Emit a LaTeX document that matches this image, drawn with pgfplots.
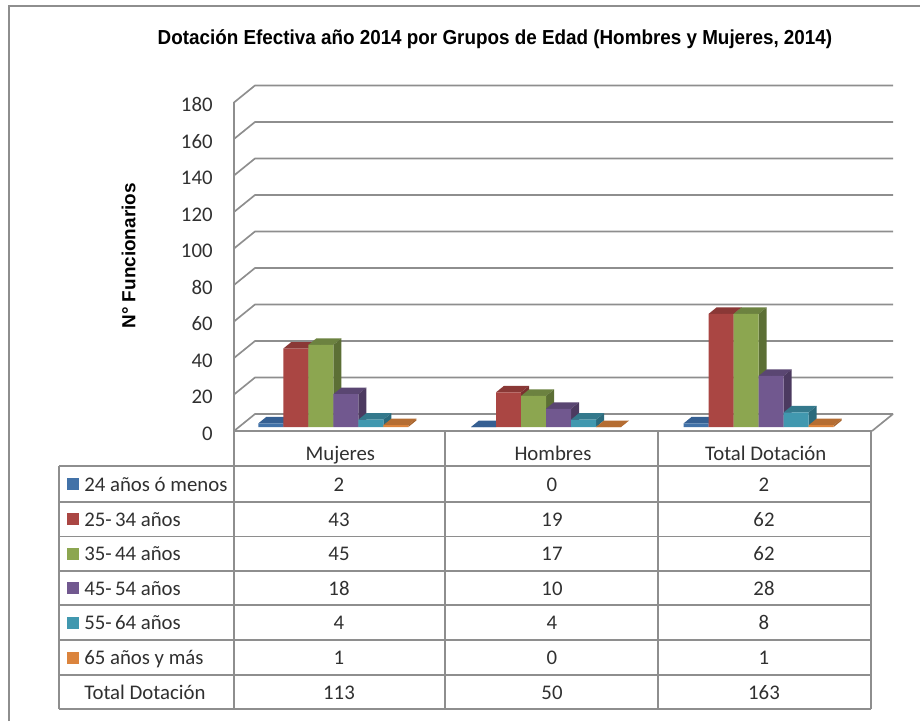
\documentclass[border=0pt]{standalone}
\usepackage{fontspec}
\setmainfont{Carlito}
\newfontfamily\arialf{Liberation Sans}
\usepackage{pgfplots}
\pgfplotsset{compat=1.18}
\definecolor{gridc}{HTML}{8E8E8E}
\definecolor{txt}{HTML}{303030}
\definecolor{cA}{HTML}{4272A8}\definecolor{cAs}{HTML}{2F5380}\definecolor{cAt}{HTML}{355F92}
\definecolor{cB}{HTML}{AA4643}\definecolor{cBs}{HTML}{7A312F}\definecolor{cBt}{HTML}{8A3836}
\definecolor{cC}{HTML}{8CA650}\definecolor{cCs}{HTML}{5C6F35}\definecolor{cCt}{HTML}{6C8240}
\definecolor{cD}{HTML}{71588F}\definecolor{cDs}{HTML}{4C3A60}\definecolor{cDt}{HTML}{5A4672}
\definecolor{cE}{HTML}{4198AF}\definecolor{cEs}{HTML}{2B6A7C}\definecolor{cEt}{HTML}{34798C}
\definecolor{cF}{HTML}{DB843D}\definecolor{cFs}{HTML}{A8642C}\definecolor{cFt}{HTML}{B56D32}
\pgfplotsset{
  front/.style n args={2}{ybar,bar width=18.75pt,bar shift=#1,fill=#2,draw=none,yshift=3pt},
  depth/.style n args={3}{scatter,only marks,mark=*,mark size=0pt,draw=none,
    xshift=#1,yshift=3pt,
    visualization depends on={y \as \hv},
    scatter/@pre marker code/.code={%
      \pgfmathsetmacro\hp{\hv*1.36875}%
      \fill[#3] (-9.375pt,0pt)--(9.375pt,0pt)--(15.375pt,4.875pt)--(-3.375pt,4.875pt)--cycle;
      \fill[#2] (9.375pt,0pt)--(15.375pt,4.875pt)--(15.375pt,4.875pt-\hp pt)--(9.375pt,-\hp pt)--cycle;
    },
    scatter/@post marker code/.code={}},
}
\newcommand{\tf}{\fontsize{15.6}{18}\selectfont}
\begin{document}
\begin{tikzpicture}[x=.75pt,y=-.75pt,every node/.append style={text height=13.5pt,text depth=2.5pt}]
\useasboundingbox (0,0) rectangle (920,721);
% frame
\draw[gridc,line width=1.25pt] (9,721)--(9,6)--(920,6);
\begin{axis}[
  at={(175.5pt,-323.25pt)},anchor=south west,
  scale only axis,width=478.5pt,height=246.4pt,
  xmin=-0.5,xmax=2.5,ymin=0,ymax=180,clip=false,clip mode=individual,
  axis x line=bottom,axis y line=left,
  axis line style={draw=gridc,line width=1.25pt,-},
  major tick length=0pt,
  xtick={0,1,2},xticklabels={Mujeres,Hombres,Total Dotación},
  ytick={0,20,...,180},
  /pgf/number format/assume math mode=true,
  ticklabel style={font=\tf,text=txt},
  yticklabel style={anchor=east,xshift=-12.5pt,yshift=-1.5pt},
  xticklabel style={anchor=center,yshift=-16.5pt},
  title={\arialf\bfseries\scalebox{0.93}[1]{Dotación Efectiva año 2014 por Grupos de Edad (Hombres y Mujeres, 2014)}},
  title style={at={(rel axis cs:0.409,1.173)},anchor=center,font=\fontsize{15.2}{16}\selectfont},
  ylabel={\arialf\bfseries N° Funcionarios},
  ylabel style={at={(rel axis cs:-0.166,0.533)},anchor=center,font=\fontsize{14.2}{16}\selectfont},
]
% walls
\pgfplotsinvokeforeach{0,20,...,180}{
  \draw[gridc,line width=1.25pt] (axis cs:-0.5,#1)--++(15.75pt,12.75pt)--++(478.5pt,0pt);
}
\draw[gridc,line width=1.25pt] (axis cs:2.5,0)--++(15.75pt,12.75pt);
% 24 años o menos
\addplot[depth={-52.125pt}{cAs}{cAt}] coordinates {(0,2)(1,0)(2,2)};
\addplot[front={-52.125pt}{cA}] coordinates {(0,2)(1,0)(2,2)};
% 25-34
\addplot[depth={-33.375pt}{cBs}{cBt}] coordinates {(0,43)(1,19)(2,62)};
\addplot[front={-33.375pt}{cB}] coordinates {(0,43)(1,19)(2,62)};
% 35-44
\addplot[depth={-14.625pt}{cCs}{cCt}] coordinates {(0,45)(1,17)(2,62)};
\addplot[front={-14.625pt}{cC}] coordinates {(0,45)(1,17)(2,62)};
% 45-54
\addplot[depth={4.125pt}{cDs}{cDt}] coordinates {(0,18)(1,10)(2,28)};
\addplot[front={4.125pt}{cD}] coordinates {(0,18)(1,10)(2,28)};
% 55-64
\addplot[depth={22.875pt}{cEs}{cEt}] coordinates {(0,4)(1,4)(2,8)};
\addplot[front={22.875pt}{cE}] coordinates {(0,4)(1,4)(2,8)};
% 65+
\addplot[depth={41.625pt}{cFs}{cFt}] coordinates {(0,1)(1,0)(2,1)};
\addplot[front={41.625pt}{cF}] coordinates {(0,1)(1,0)(2,1)};
\end{axis}
% table
\foreach \y in {466,502,536.5,571,605,640,675,709}
  \draw[gridc,line width=1.25pt] (59,\y)--(871,\y);
\draw[gridc,line width=1.25pt] (59,466)--(59,709);
\foreach \x in {234,445,658,871}
  \draw[gridc,line width=1.25pt] (\x,431)--(\x,709);
\foreach \y/\c/\t/\a/\b/\d in {
  484/cA/24 años ó menos/2/0/2,
  519/cB/25-\kern2.5pt 34 años/43/19/62,
  553.5/cC/35-\kern2.5pt 44 años/45/17/62,
  588/cD/45-\kern2.5pt 54 años/18/10/28,
  622.5/cE/55-\kern2.5pt 64 años/4/4/8,
  657.5/cF/65 años y más/1/0/1}{
  \fill[\c] (67,\y-6)rectangle(79,\y+6);
  \node[anchor=west,inner sep=0pt,text=txt,font=\tf] at (84,\y) {\t};
  \node[text=txt,font=\tf] at (339,\y) {\a};
  \node[text=txt,font=\tf] at (552,\y) {\b};
  \node[text=txt,font=\tf] at (764,\y) {\d};
}
\node[anchor=west,inner sep=0pt,text=txt,font=\tf] at (84,692) {Total Dotación};
\node[text=txt,font=\tf] at (339,692) {113};
\node[text=txt,font=\tf] at (552,692) {50};
\node[text=txt,font=\tf] at (764,692) {163};
\end{tikzpicture}
\end{document}
